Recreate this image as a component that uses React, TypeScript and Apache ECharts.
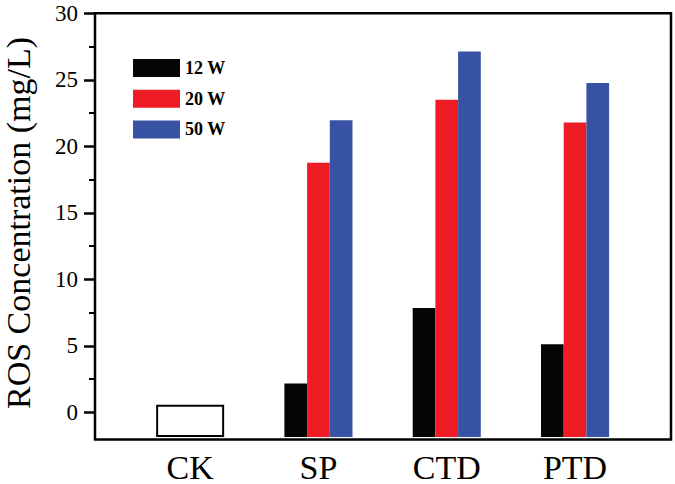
import React, { useEffect, useRef } from "react";
import * as echarts from "echarts";

const categories = ["CK", "SP", "CTD", "PTD"];
const seriesNames = ["12 W", "20 W", "50 W"];
const values12W = [null, 2.05, 7.74, 5.0];
const values20W = [null, 18.72, 23.48, 21.75];
const values50W = [null, 21.92, 27.11, 24.74];
const valuesCK = [0.43, null, null, null];
const seriesColors = ["#050505", "#ee1c25", "#3853a3"];
const yTitle = "ROS Concentration (mg/L)";

const FONT = "Liberation Serif";

export default function App() {
  const ref = useRef<HTMLDivElement>(null);
  useEffect(() => {
    if (!ref.current) return;
    const chart = echarts.init(ref.current, undefined, { renderer: "svg" });
    const top = 13.3;
    const bottom = 439.5;
    const zeroY = 412.3;
    const groupSeries = [values12W, values20W, values50W].map((d, i) => ({
      name: seriesNames[i],
      type: "bar",
      xAxisIndex: 1,
      yAxisIndex: 1,
      data: d,
      barWidth: 22.7,
      barGap: "0%",
      itemStyle: { color: seriesColors[i] },
    }));
    chart.setOption({
      animation: false,
      backgroundColor: "#ffffff",
      textStyle: { fontFamily: FONT },
      grid: [
        { left: 95, top, width: 576, height: bottom - top, show: true, borderColor: "#000", borderWidth: 2.5, backgroundColor: "transparent" },
        { left: 126, top, width: 513.2, height: bottom - top },
        { left: 95, top, width: 576, height: zeroY - top },
      ],
      legend: {
        orient: "vertical",
        left: 133,
        top: 59,
        padding: 0,
        itemWidth: 47,
        itemHeight: 18,
        itemGap: 12.7,
        icon: "rect",
        data: seriesNames,
        textStyle: { fontFamily: FONT, fontWeight: "bold", fontSize: 18, color: "#000", padding: [0, 0, 0, 0] },
      },
      xAxis: [
        { gridIndex: 0, type: "value", min: 0, max: 1, show: false },
        {
          gridIndex: 1,
          type: "category",
          data: categories,
          axisLine: { show: false },
          axisTick: { show: false },
          axisLabel: { fontFamily: FONT, fontSize: 34, color: "#000", margin: 13 },
        },
        { gridIndex: 1, type: "category", data: categories, show: false },
        { gridIndex: 2, type: "value", min: 0, max: 1, show: false },
      ],
      yAxis: [
        { gridIndex: 0, type: "value", min: -2, max: 30, show: false },
        { gridIndex: 1, type: "value", min: -2, max: 30, show: false, startValue: -2 },
        {
          gridIndex: 2,
          type: "value",
          min: 0,
          max: 30,
          interval: 5,
          position: "left",
          axisLine: { show: false },
          splitLine: { show: false },
          axisTick: { show: true, inside: false, length: 11, lineStyle: { color: "#000", width: 2.5 } },
          minorTick: { show: true, splitNumber: 2, length: 6, lineStyle: { color: "#000", width: 2 } },
          minorSplitLine: { show: false },
          axisLabel: { fontFamily: FONT, fontSize: 23, color: "#000", margin: 17 },
        },
      ],
      graphic: [
        {
          type: "text",
          x: 18,
          y: 223,
          rotation: Math.PI / 2,
          style: {
            text: yTitle,
            fontFamily: FONT,
            fontSize: 34,
            fill: "#000",
            align: "center",
            verticalAlign: "middle",
          },
        },
      ],
      series: [
        ...groupSeries,
        {
          name: "CK",
          type: "bar",
          xAxisIndex: 2,
          yAxisIndex: 1,
          data: valuesCK,
          barWidth: 68,
          itemStyle: { color: "#ffffff", borderColor: "#000", borderWidth: 2 },
        },
      ],
    });
    return () => chart.dispose();
  }, []);
  return <div ref={ref} style={{ position: "fixed", left: 0, top: 0, width: 675, height: 484 }} />;
}
